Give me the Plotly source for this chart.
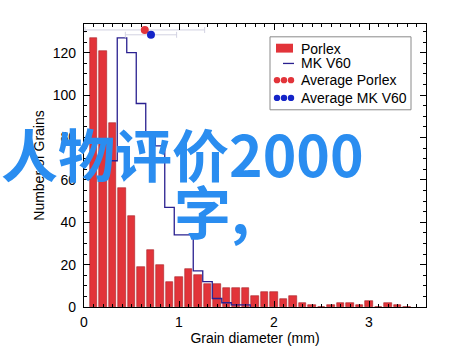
import plotly.graph_objects as go

# ---------------- data ----------------
porlex_centers = [0.1, 0.2, 0.3, 0.4, 0.5, 0.6, 0.7, 0.8, 0.9, 1.0, 1.1, 1.2, 1.3, 1.4, 1.5, 1.6, 1.7,
                  1.8, 1.9, 2.0, 2.1, 2.2, 2.3, 2.4, 2.5, 2.6, 2.7, 2.8, 2.9, 3.0, 3.1, 3.2, 3.3, 3.4]
porlex_counts = [127, 121, 87, 56, 43, 19, 27, 20, 12, 14, 18, 15, 11, 11, 9, 9, 9,
                 5, 7, 7, 4, 5, 2, 1, 0, 1, 2, 2, 1, 3, 0, 2, 1, 0]

mk_centers = [0.3, 0.4, 0.5, 0.6, 0.7, 0.8, 0.9, 1.0, 1.1, 1.2, 1.3, 1.4, 1.5, 1.6, 1.7, 1.8]
mk_counts = [69, 127, 120, 96, 82, 76, 47, 34, 34, 17, 12, 4, 2, 1, 1, 0]
bin_width = 0.1

avg_names = ["Average Porlex", "Average MK V60"]
avg_x = [0.64, 0.705]
avg_y = [130.7, 128.4]
avg_err = [0.63, 0.27]

x_ticks = [0, 1, 2, 3]
y_ticks = [0, 20, 40, 60, 80, 100, 120]

legend_labels = ["Porlex", "MK V60", "Average Porlex", "Average MK V60"]
overlay_lines = ["人物评价2000", "字,"]

# ---------------- style ----------------
RED = "#E2343A"
NAVY = "#2A2090"
BLUE_DOT = "#1424C8"
FONT = "Liberation Sans, Arial, sans-serif"

W, H = 460, 354
L, R, T, B = 84, 34, 24, 43
PW, PH = W - L - R, H - T - B


def pxx(px):
    return (px - L) / PW


def pxy(py):
    return (H - B - py) / PH


mk_edges = [c - bin_width / 2 for c in mk_centers]

fig = go.Figure()

fig.add_trace(go.Bar(
    x=porlex_centers, y=porlex_counts, width=0.08,
    marker=dict(color=RED, line=dict(color="#A82228", width=0.6)),
    showlegend=False,
))

fig.add_trace(go.Scatter(
    x=mk_edges, y=mk_counts, mode="lines", line_shape="hv",
    line=dict(color=NAVY, width=1.3), showlegend=False,
))

for xv, yv, ev, col in zip(avg_x, avg_y, avg_err, [RED, BLUE_DOT]):
    fig.add_trace(go.Scatter(
        x=[xv], y=[yv], mode="markers",
        marker=dict(color=col, size=8),
        error_x=dict(type="data", array=[ev], color="#D2D2E2", thickness=1, width=3),
        showlegend=False,
    ))

axis_common = dict(
    showline=True, linecolor="black", linewidth=1.2, mirror="ticks",
    ticks="inside", tickcolor="black", tickwidth=1, showgrid=False, zeroline=False,
    tickfont=dict(family=FONT, size=14, color="black"),
)

fig.update_xaxes(
    range=[0, 3.6], tickvals=x_ticks, ticklen=6,
    minor=dict(dtick=0.1, ticks="inside", ticklen=3, tickcolor="black", showgrid=False),
    title=dict(text="Grain diameter (mm)", font=dict(family=FONT, size=14, color="black"), standoff=2),
    ticklabelstandoff=2,
    **axis_common,
)
fig.update_yaxes(
    range=[0, 133.5], tickvals=y_ticks, ticklen=6,
    minor=dict(dtick=5, ticks="inside", ticklen=3, tickcolor="black", showgrid=False),
    title=dict(text="Number of Grains", font=dict(family=FONT, size=14, color="black"), standoff=4),
    ticklabelstandoff=4,
    **axis_common,
)

# ---------------- legend (drawn manually) ----------------
shapes = []
annotations = []
shapes.append(dict(type="rect", xref="paper", yref="paper",
                   x0=pxx(270), x1=pxx(411), y0=pxy(111), y1=pxy(37),
                   line=dict(color="#8A8A8A", width=1), fillcolor="white", layer="above"))
shapes.append(dict(type="rect", xref="paper", yref="paper",
                   x0=pxx(276), x1=pxx(293), y0=pxy(53), y1=pxy(44),
                   line=dict(width=0), fillcolor=RED, layer="above"))
shapes.append(dict(type="line", xref="paper", yref="paper",
                   x0=pxx(283), x1=pxx(294), y0=pxy(64), y1=pxy(64),
                   line=dict(color=NAVY, width=1.3), layer="above"))
for ly, col in [(81, RED), (99, BLUE_DOT)]:
    for cx in [277, 284, 291]:
        shapes.append(dict(type="circle", xref="paper", yref="paper",
                           x0=pxx(cx - 3.2), x1=pxx(cx + 3.2), y0=pxy(ly + 3.2), y1=pxy(ly - 3.2),
                           line=dict(width=0), fillcolor=col, layer="above"))
for lab, ly in zip(legend_labels, [49, 64, 81, 99]):
    annotations.append(dict(text=lab, xref="paper", yref="paper", x=pxx(299), y=pxy(ly),
                            xanchor="left", yanchor="middle", showarrow=False,
                            font=dict(family=FONT, size=14, color="black")))

# ---------------- overlay text ----------------
annotations.append(dict(text=overlay_lines[0], xref="paper", yref="paper", x=pxx(182), y=pxy(154),
                        xanchor="center", yanchor="middle", showarrow=False,
                        font=dict(family="Noto Sans CJK SC", size=57, color="#2A8DF0", weight="bold")))
annotations.append(dict(text=overlay_lines[1], xref="paper", yref="paper", x=pxx(212), y=pxy(212),
                        xanchor="center", yanchor="middle", showarrow=False,
                        font=dict(family="Noto Sans CJK SC", size=57, color="#2A8DF0", weight="bold")))

fig.update_layout(
    width=W, height=H, margin=dict(l=L, r=R, t=T, b=B),
    paper_bgcolor="white", plot_bgcolor="white",
    shapes=shapes, annotations=annotations, showlegend=False,
    bargap=0,
)

fig.write_html("out.html")
